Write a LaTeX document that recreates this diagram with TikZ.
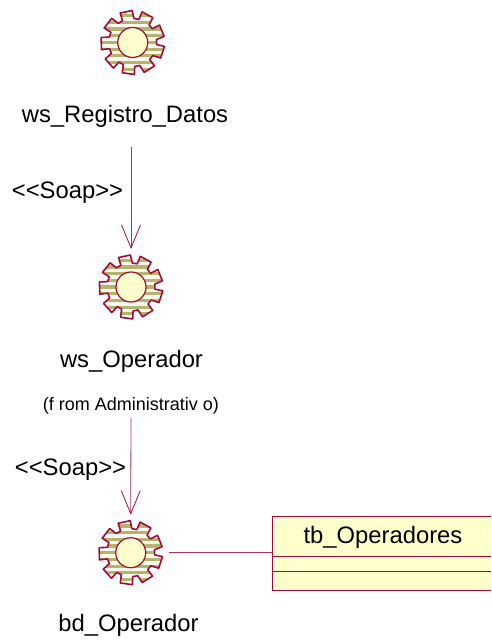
\documentclass[tikz,border=0pt]{standalone}
\usepackage{fontspec}
\setmainfont{Liberation Sans}
\usetikzlibrary{arrows.meta}
\definecolor{umlred}{HTML}{A50A3C}
\definecolor{umlfill}{HTML}{FFFFCB}
\definecolor{umlolive}{HTML}{B4B46E}
\definecolor{umlpale}{HTML}{FBFBEE}
\tikzset{
  lbl/.style={font=\fontsize{23.8}{26}\selectfont,text=black,inner sep=0pt},
  small/.style={font=\fontsize{18}{20}\selectfont,text=black,inner sep=0pt},
  gearnode/.style={circle,minimum size=76pt,inner sep=0pt,outer sep=0pt},
  assoc/.style={draw=umlred!85!white,line width=0.8pt},
  dep/.style={assoc,-{Straight Barb[length=23pt,width=19pt,line width=0.8pt,color=umlred]}},
  classline/.style={draw=umlred,line width=0.9pt},
}
\newcommand{\gearshape}{%
  (91:32) -- (113:32) -- (115:24) -- (127:24)
  -- (131:32) -- (153:32) -- (155:24) -- (167:24)
  -- (171:32) -- (193:32) -- (195:24) -- (207:24)
  -- (211:32) -- (233:32) -- (235:24) -- (247:24)
  -- (251:32) -- (273:32) -- (275:24) -- (287:24)
  -- (291:32) -- (313:32) -- (315:24) -- (327:24)
  -- (331:32) -- (353:32) -- (355:24) -- (7:24)
  -- (11:32) -- (33:32) -- (35:24) -- (47:24)
  -- (51:32) -- (73:32) -- (75:24) -- (87:24) -- cycle}
\newcommand{\drawgear}[2]{%
  \node[gearnode] (#1) at (#2) {};
  \begin{scope}[shift={(#2)},x=1pt,y=1pt]
    \begin{scope}
      \clip \gearshape;
      \fill[umlpale] (-34,-34) rectangle (34,34);
      \foreach \s in {-5,...,5}{
        \fill[umlolive] (-34,{\s*6.7-1.6}) rectangle (34,{\s*6.7+1.6});
      }
    \end{scope}
    \draw[umlred,line width=1.6pt,line join=round] \gearshape;
    \draw[umlred,line width=1.2pt,fill=umlfill] (0,0) circle (15);
  \end{scope}}
\begin{document}
\begin{tikzpicture}[x=1pt,y=-1pt]
\useasboundingbox (0,0) rectangle (491,642);
\clip (0,0) rectangle (491,642);
\drawgear{g1}{132.7,42.5}
\drawgear{g2}{131,287}
\drawgear{g3}{130.7,552.7}
\node[lbl] (t1) at (125,116) {ws\_Registro\_Datos};
\node[lbl] (t2) at (131.5,361) {ws\_Operador};
\node[small] (from) at (131,406) {(f rom Administrativ o)};
\node[lbl] (t3) at (128.5,625) {bd\_Operador};
\node[lbl] (s1) at (67.5,193) {<{}<Soap>{}>};
\node[lbl] (s2) at (70.5,470) {<{}<Soap>{}>};
\coordinate (c1) at (131,147);
\coordinate (c2) at (131,418);
\draw[dep] (c1) -- (g2.north);
\draw[dep] (c2) -- (g3.north);
% class
\node[anchor=north west,fill=umlfill,minimum width=219pt,minimum height=74pt,inner sep=0pt,outer sep=0pt] (cls) at (272,516) {};
\node[lbl] (cname) at (383,537) {tb\_Operadores};
\coordinate (d1l) at (272,556.7);
\coordinate (d1r) at (491,556.7);
\coordinate (d2l) at (272,571);
\coordinate (d2r) at (491,571);
\draw[classline] (cls.north east) -- (cls.north west) -- (cls.south west) -- (cls.south east);
\draw[classline] (d1l) -- (d1r);
\draw[classline] (d2l) -- (d2r);
\draw[assoc] (g3.east) -- (g3.east -| cls.west);
\end{tikzpicture}
\end{document}
